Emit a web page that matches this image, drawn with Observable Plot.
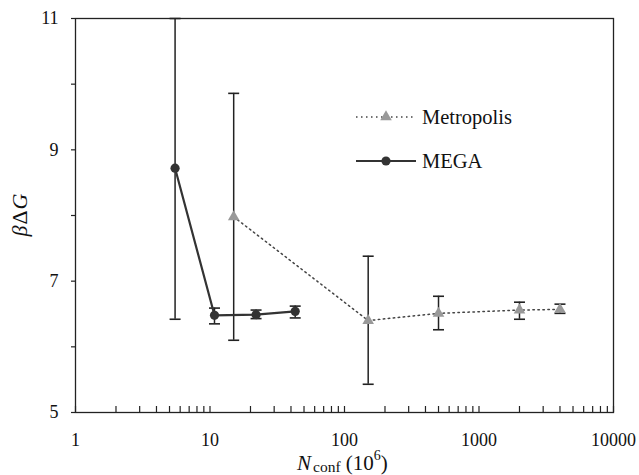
<!DOCTYPE html>
<html><head><meta charset="utf-8">
<script src="https://cdn.jsdelivr.net/npm/d3@7"></script>
<script src="https://cdn.jsdelivr.net/npm/@observablehq/plot@0.6"></script>
<style>
body{margin:0;background:#fff;}
#wrap{position:relative;width:639px;height:475px;}
</style></head><body><div id="wrap"></div>
<script>
// MEGA series
const megaN  = [5.5, 10.8, 22, 43];
const megaG  = [8.72, 6.48, 6.49, 6.54];
const megaLo = [6.42, 6.35, 6.43, 6.44];
const megaHi = [11.0, 6.59, 6.56, 6.62];
// Metropolis series
const metroN  = [15, 150, 500, 2000, 4000];
const metroG  = [7.98, 6.40, 6.51, 6.56, 6.57];
const metroLo = [6.10, 5.43, 6.26, 6.42, 6.51];
const metroHi = [9.86, 7.38, 6.77, 6.68, 6.65];
// axes
const xMajor = [1, 10, 100, 1000, 10000];
const yTicks = [5, 6, 7, 8, 9, 10, 11];
const seriesNames = ["Metropolis", "MEGA"];

const xMinor = [];
for (let k = 0; k < 4; k++) for (let m = 2; m <= 9; m++) xMinor.push(m * Math.pow(10, k));

const mega = megaN.map((n, i) => ({n, g: megaG[i], lo: megaLo[i], hi: megaHi[i]}));
const metro = metroN.map((n, i) => ({n, g: metroG[i], lo: metroLo[i], hi: metroHi[i]}));

const cap = {draw(ctx, size) { const r = Math.sqrt(size / Math.PI); ctx.moveTo(-r, 0); ctx.lineTo(r, 0); }};

const ink = "#222";
const FF = "Liberation Serif";

const plot = Plot.plot({
  width: 639, height: 475,
  marginLeft: 75, marginRight: 26, marginTop: 18, marginBottom: 63,
  style: {fontFamily: FF, fontSize: "18px", color: "#111", background: "white"},
  x: {type: "log", domain: [1, 10000]},
  y: {domain: [5, 11]},
  marks: [
    Plot.axisY({ticks: yTicks, tickFormat: d => d % 2 ? String(d) : "", tickSize: 4, tickPadding: 13, label: null, stroke: ink, strokeWidth: 1.2, fontFamily: FF}),
    Plot.axisX({ticks: xMajor, tickFormat: d => String(d), tickSize: 0, tickPadding: 21, label: null, fontFamily: FF}),
    Plot.tickX(xMinor.concat(xMajor), {x: d => d, insetTop: 388, stroke: ink, strokeWidth: 1.2}),
    Plot.frame({stroke: ink, strokeWidth: 1.3}),
    // error bars
    Plot.ruleX(metro, {x: "n", y1: "lo", y2: "hi", stroke: ink, strokeWidth: 1.5}),
    Plot.dot(metro, {x: "n", y: "lo", symbol: cap, r: 5.5, stroke: ink, strokeWidth: 1.6}),
    Plot.dot(metro, {x: "n", y: "hi", symbol: cap, r: 5.5, stroke: ink, strokeWidth: 1.6}),
    Plot.ruleX(mega, {x: "n", y1: "lo", y2: "hi", stroke: ink, strokeWidth: 1.5}),
    Plot.dot(mega, {x: "n", y: "lo", symbol: cap, r: 5.5, stroke: ink, strokeWidth: 1.6}),
    Plot.dot(mega, {x: "n", y: "hi", symbol: cap, r: 5.5, stroke: ink, strokeWidth: 1.6}),
    // lines
    Plot.line(metro, {x: "n", y: "g", stroke: "#444", strokeWidth: 1.5, strokeDasharray: "1.5,3.5"}),
    Plot.line(mega, {x: "n", y: "g", stroke: "#333", strokeWidth: 2.2}),
    // markers
    Plot.dot(metro, {x: "n", y: "g", symbol: "triangle", r: 4.3, fill: "#999", stroke: "none"}),
    Plot.dot(mega, {x: "n", y: "g", symbol: "circle", r: 4.6, fill: "#333", stroke: "none"})
  ]
});
document.getElementById("wrap").appendChild(plot);

const svg = d3.select(plot);
// y label  βΔG
const yl = svg.append("text")
  .attr("transform", "translate(27,215) rotate(-90)")
  .attr("text-anchor", "middle").attr("font-size", 22).attr("fill", "#111");
yl.append("tspan").attr("font-style", "italic").text("β");
yl.append("tspan").attr("dx", 1).text("Δ");
yl.append("tspan").attr("dx", 1).attr("font-style", "italic").text("G");
// x label  N_conf (10^6)
const xl = svg.append("text")
  .attr("x", 297).attr("y", 470)
  .attr("text-anchor", "start").attr("font-size", 21).attr("fill", "#111");
xl.append("tspan").attr("font-style", "italic").text("N");
xl.append("tspan").attr("font-size", 15.5).attr("dx", 2).attr("dy", 2).text("conf");
xl.append("tspan").attr("dy", -2).text(" (10");
xl.append("tspan").attr("font-size", 14).attr("dy", -10).text("6");
xl.append("tspan").attr("dy", 10).text(")");

// legend
const lg = svg.append("g").attr("font-size", 20.5).attr("fill", "#111");
const rows = [
  {name: seriesNames[0], y: 117, dash: "1.5,3.5", stroke: "#444", sw: 1.5, sym: d3.symbolTriangle, size: 58, fill: "#999"},
  {name: seriesNames[1], y: 161, dash: null, stroke: "#333", sw: 2.2, sym: d3.symbolCircle, size: 66, fill: "#333"}
];
rows.forEach(r => {
  lg.append("line").attr("x1", 356).attr("x2", 416).attr("y1", r.y).attr("y2", r.y)
    .attr("stroke", r.stroke).attr("stroke-width", r.sw).attr("stroke-dasharray", r.dash);
  lg.append("path").attr("d", d3.symbol(r.sym, r.size)()).attr("transform", `translate(386,${r.y})`).attr("fill", r.fill);
  lg.append("text").attr("x", 422).attr("y", r.y + 7).attr("text-anchor", "start").text(r.name);
});

// force serif on every text
plot.style.setProperty("font-family", FF, "important");
svg.selectAll("text, tspan").each(function() {
  this.setAttribute("font-family", FF);
  this.style.setProperty("font-family", FF, "important");
});
</script></body></html>
